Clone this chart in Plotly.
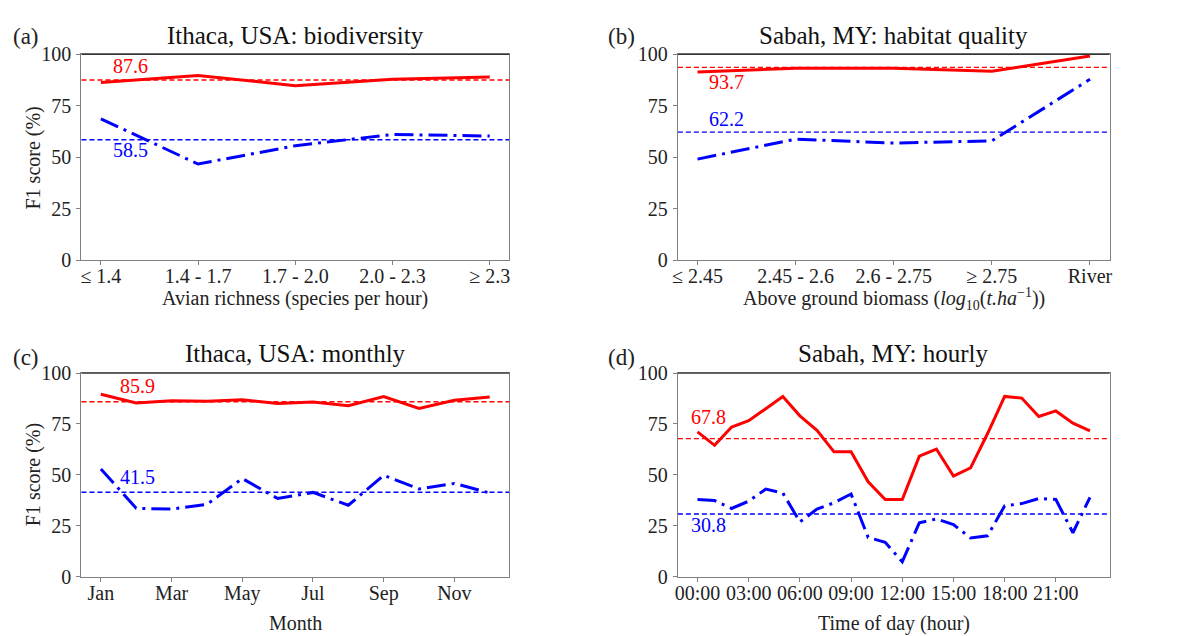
import plotly.graph_objects as go

# ---------------- data ----------------
rich_cats = ["≤ 1.4", "1.4 - 1.7", "1.7 - 2.0", "2.0 - 2.3", "≥ 2.3"]
rich_red = [86.4, 89.8, 84.8, 87.9, 89.0]
rich_blue = [68.7, 46.7, 55.6, 61.1, 60.3]
rich_red_mean = 87.6
rich_blue_mean = 58.5

bio_cats = ["≤ 2.45", "2.45 - 2.6", "2.6 - 2.75", "≥ 2.75", "River"]
bio_red = [91.4, 93.3, 93.3, 91.8, 99.2]
bio_blue = [49.1, 58.8, 56.9, 58.0, 87.9]
bio_red_mean = 93.7
bio_blue_mean = 62.2

months = ["Jan", "Feb", "Mar", "Apr", "May", "Jun", "Jul", "Aug", "Sep", "Oct", "Nov", "Dec"]
month_red = [89.6, 85.3, 86.4, 86.1, 86.9, 85.0, 85.8, 84.0, 88.5, 82.6, 86.6, 88.2]
month_blue = [52.9, 33.6, 33.2, 35.5, 48.2, 38.4, 41.4, 35.1, 49.8, 43.1, 45.8, 41.1]
month_red_mean = 85.9
month_blue_mean = 41.5

hours = list(range(24))
hour_red = [71.1, 64.5, 73.5, 76.6, 82.5, 88.5, 79.0, 71.9, 61.3, 61.3, 46.6, 37.9,
            37.9, 59.2, 62.7, 49.4, 53.4, 70.3, 88.5, 87.7, 78.7, 81.4, 75.4, 71.6]
hour_blue = [37.9, 37.4, 33.5, 37.1, 43.0, 41.1, 26.9, 33.2, 36.3, 40.6, 19.3, 16.9,
             7.4, 26.5, 28.4, 25.6, 19.0, 20.1, 34.8, 35.9, 38.4, 37.9, 21.6, 39.0]
hour_red_mean = 67.8
hour_blue_mean = 30.8
hour_ticks = ["00:00", "03:00", "06:00", "09:00", "12:00", "15:00", "18:00", "21:00"]

yticks = [0, 25, 50, 75, 100]

W, H = 1192, 636
FONT = "Liberation Serif, DejaVu Serif, serif"
RED = "#ff0000"
BLUE = "#0000ff"

fig = go.Figure()

panels = [
    dict(ax="", x0=76, x1=507, y0=45, y1=258),
    dict(ax="2", x0=677, x1=1112, y0=45, y1=258),
    dict(ax="3", x0=76, x1=507, y0=375, y1=586),
    dict(ax="4", x0=677, x1=1112, y0=375, y1=586),
]

def px2x(p):
    return p / W

def px2y(p):
    return 1 - p / H

series = [
    (list(range(5)), rich_red, rich_blue, rich_red_mean, rich_blue_mean),
    (list(range(5)), bio_red, bio_blue, bio_red_mean, bio_blue_mean),
    (list(range(12)), month_red, month_blue, month_red_mean, month_blue_mean),
    (hours, hour_red, hour_blue, hour_red_mean, hour_blue_mean),
]

xaxis_cfg = [
    dict(range=[-0.2, 4.2], tickvals=list(range(5)), ticktext=rich_cats),
    dict(range=[-0.2, 4.2], tickvals=list(range(5)), ticktext=bio_cats),
    dict(range=[-0.55, 11.55], tickvals=list(range(0, 12, 2)), ticktext=months[::2]),
    dict(range=[-1.15, 24.15], tickvals=list(range(0, 24, 3)), ticktext=hour_ticks),
]

axis_common = dict(showgrid=False, zeroline=False, showline=True, linecolor="#808080",
                   linewidth=1.3, mirror=True, ticks="outside", ticklen=4,
                   tickcolor="#808080", tickfont=dict(family=FONT, size=20, color="#222"))

for i, (p, s, xc) in enumerate(zip(panels, series, xaxis_cfg)):
    xs, red, blue, rm, bm = s
    xa = "x" + p["ax"]
    ya = "y" + p["ax"]
    fig.add_trace(go.Scatter(x=xs, y=red, mode="lines", line=dict(color=RED, width=3),
                             xaxis=xa, yaxis=ya, showlegend=False))
    fig.add_trace(go.Scatter(x=xs, y=blue, mode="lines",
                             line=dict(color=BLUE, width=3, dash="19px,6px,3px,6px"),
                             xaxis=xa, yaxis=ya, showlegend=False))
    for m, c in ((rm, RED), (bm, BLUE)):
        fig.add_shape(type="line", xref=xa + " domain", yref=ya, x0=0, x1=1, y0=m, y1=m,
                      line=dict(color=c, width=1.4, dash="5px,3px"), layer="above")
    lay_x = "xaxis" + p["ax"]
    lay_y = "yaxis" + p["ax"]
    fig.update_layout({
        lay_x: dict(domain=[px2x(p["x0"]), px2x(p["x1"])], anchor=ya, ticklabelstandoff=-6,
                    **xc, **axis_common),
        lay_y: dict(domain=[px2y(p["y1"]), px2y(p["y0"])], anchor=xa, range=[0, 100],
                    tickvals=yticks, ticklabelstandoff=1, **axis_common),
    })
    fig.add_shape(type="line", xref=xa + " domain", yref=ya + " domain", x0=0, x1=1, y0=1, y1=1,
                  line=dict(color="#333", width=1.3), layer="above")

labels = [
    ("x", "y", 0.1, 90.0, rich_red_mean, RED),
    ("x", "y", 0.1, 49.0, rich_blue_mean, BLUE),
    ("x2", "y2", 0.1, 82.0, bio_red_mean, RED),
    ("x2", "y2", 0.1, 64.3, bio_blue_mean, BLUE),
    ("x3", "y3", 0.49, 89.0, month_red_mean, RED),
    ("x3", "y3", 0.49, 44.3, month_blue_mean, BLUE),
    ("x4", "y4", -0.5, 74.2, hour_red_mean, RED),
    ("x4", "y4", -0.5, 21.2, hour_blue_mean, BLUE),
]
for xa, ya, x, y, v, c in labels:
    fig.add_annotation(x=x, y=y, xref=xa, yref=ya, text=f"{v:.1f}", showarrow=False,
                       xanchor="left", yanchor="bottom", yshift=-4,
                       font=dict(family=FONT, size=20, color=c))

titles = [
    ("Ithaca, USA: biodiversity", 291.5, 41, "(a)", 5, 26),
    ("Sabah, MY: habitat quality", 894.5, 41, "(b)", 605, 26),
    ("Ithaca, USA: monthly", 291.5, 371, "(c)", 5, 359),
    ("Sabah, MY: hourly", 894.5, 371, "(d)", 605, 359),
]
for t, cx, by, letter, lx, ly in titles:
    fig.add_annotation(x=px2x(cx), y=px2y(by), xref="paper", yref="paper", text=t,
                       showarrow=False, xanchor="center", yanchor="bottom", yshift=0,
                       font=dict(family=FONT, size=25, color="#111"))
    fig.add_annotation(x=px2x(lx), y=px2y(ly), xref="paper", yref="paper", text=letter,
                       showarrow=False, xanchor="left", yanchor="middle",
                       font=dict(family=FONT, size=23, color="#222"))

xtitles = [
    ("Avian richness (species per hour)", 291.5, 284),
    ("Above ground biomass (<i>log</i><sub>10</sub>(<i>t.ha</i><sup>−1</sup>))", 894.5, 282),
    ("Month", 291.5, 620),
    ("Time of day (hour)", 894.5, 620),
]
for t, cx, ty in xtitles:
    fig.add_annotation(x=px2x(cx), y=px2y(ty), xref="paper", yref="paper", text=t,
                       showarrow=False, xanchor="center", yanchor="top",
                       font=dict(family=FONT, size=20, color="#222"))

for cy in (152, 480):
    fig.add_annotation(x=px2x(28), y=px2y(cy), xref="paper", yref="paper", text="F1 score (%)",
                       showarrow=False, textangle=-90, xanchor="center", yanchor="middle",
                       font=dict(family=FONT, size=20, color="#222"))

fig.update_layout(width=W, height=H, margin=dict(l=0, r=0, t=0, b=0),
                  paper_bgcolor="white", plot_bgcolor="white", showlegend=False)

fig.write_html("out.html")
